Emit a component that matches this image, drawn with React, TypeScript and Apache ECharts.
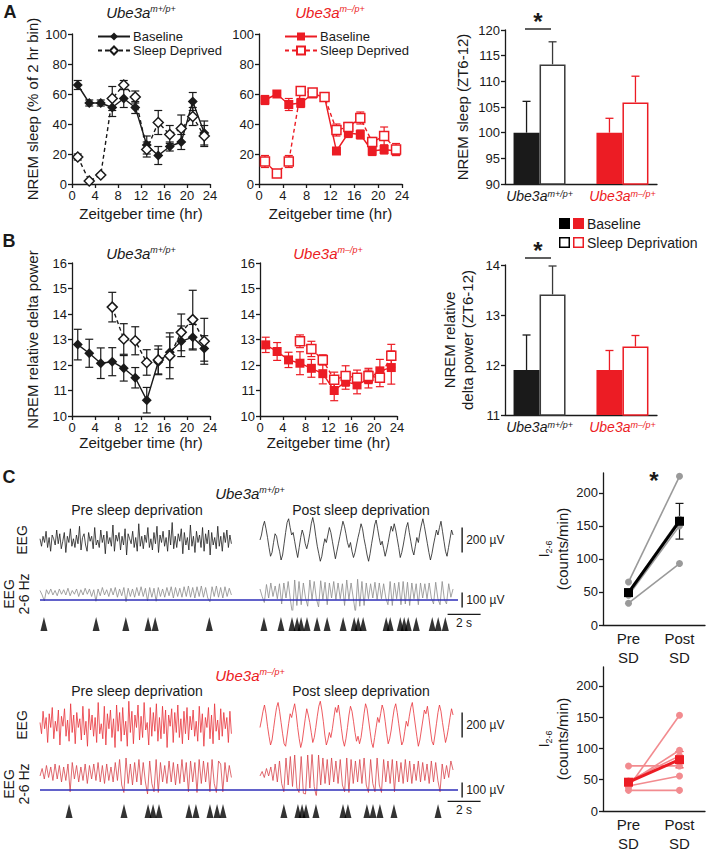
import React, { useEffect, useRef } from "react";
import * as echarts from "echarts";

const FONT = "'Liberation Sans', Arial, Helvetica, sans-serif";
const INK = "#1a1a1a";
const RED = "#ec1c24";
const PINK = "#f28b8f";
const GRAY = "#9a9a9a";
const BLUE = "#2e2eb8";

// ---------- Panel A / B time courses ----------
const hours = [1, 3, 5, 7, 9, 11, 13, 15, 17, 19, 21, 23];

const wtSleepBase = [66, 54, 54, 51, 57, 51, 26, 19, 25, 28, 55, 34];
const wtSleepBaseErr = [3, 2, 2, 6, 6, 4, 6, 6, 3, 5, 6, 8];
const wtSleepSD = [18, 2, 6, 57, 66, 58, 23, 41, 33, 37, 45, 32];
const wtSleepSDErr = [2, 1, 1, 8, 3, 4, 5, 8, 6, 9, 6, 7];
const koSleepBase = [56, 60, 53, 54, 60, 58, 22, 34, 33, 22, 23, 22];
const koSleepBaseErr = [3, 2, 4, 3, 2, 2, 2, 3, 3, 3, 3, 3];
const koSleepSD = [15, 7, 15, 62, 61, 58, 36, 38, 44, 28, 32, 23];
const koSleepSDErr = [4, 2, 4, 2, 2, 2, 4, 3, 4, 3, 6, 4];

const wtDeltaBase = [12.8, 12.46, 12.07, 12.13, 11.87, 11.5, 10.62, 12.12, 12.5, 12.93, 13.09, 12.65];
const wtDeltaBaseErr = [0.6, 0.55, 0.6, 0.55, 0.5, 0.4, 0.5, 0.5, 0.6, 0.6, 0.5, 0.5];
const wtDeltaSD = [null, null, null, 14.27, 13.02, 12.95, 12.1, 12.2, 12.36, 13.28, 13.78, 12.93];
const wtDeltaSDErr = [null, null, null, 0.58, 0.6, 0.55, 0.5, 0.55, 0.9, 0.72, 1.15, 0.9];
const koDeltaBase = [12.79, 12.53, 12.2, 12.07, 11.87, 11.66, 11.0, 11.35, 11.22, 11.45, 11.77, 11.9];
const koDeltaBaseErr = [0.3, 0.35, 0.3, 0.45, 0.35, 0.4, 0.4, 0.3, 0.35, 0.35, 0.45, 0.65];
const koDeltaSD = [null, null, null, 12.93, 12.63, 12.2, 11.42, 11.57, 11.5, 11.57, 11.5, 12.36];
const koDeltaSDErr = [null, null, null, 0.25, 0.3, 0.2, 0.3, 0.4, 0.3, 0.3, 0.35, 0.45];

// ---------- Bar panels (ZT6-12) ----------
const barKeys = ["c0", "c1", "wt", "c3", "c4", "c5", "c6", "c7", "ko", "c9", "c10"];
const sleepBarBase = { wt: 100, ko: 100 };
const sleepBarBaseErr = { wt: 6.1, ko: 2.8 };
const sleepBarSD = { wt: 113.3, ko: 105.9 };
const sleepBarSDErr = { wt: 4.4, ko: 5.1 };
const deltaBarBase = { wt: 11.9, ko: 11.9 };
const deltaBarBaseErr = { wt: 0.7, ko: 0.39 };
const deltaBarSD = { wt: 13.41, ko: 12.37 };
const deltaBarSDErr = { wt: 0.57, ko: 0.22 };

// ---------- Panel C traces (µV) ----------
const preDur = 11.6;
const postStart = 13.33;
const postDur = 11.7;
const rowSpan = 25.33;

const wtPreEEG = [10, -50, 30, -20, 70, -60, 20, -90, 40, 10, -40, 80, -30, 50, -70, -10, 60, -100, 30, -20, 90, -50, 10, -60, 40, -30, 110, -80, 20, 50, -40, -90, 60, -10, 30, -70, 100, -40, 0, -60, 80, -20, 40, -110, 70, -30, 20, -50, 120, -90, 40, -10, 60, -80, 30, -40, 90, -120, 50, 10, -30, 70, -60, 20, -90, 130, -50, 30, -70, 40, -20, 100, -60, 10, -80, 60, -30, 110, -100, 40, -20, 70, -50, 20, -90, 80, -40, 140, -70, 30, -60, 50, -10, 90, -110, 60, -40, 20, -80, 120, -50, 30, -100, 70, -20, 40, -60, 100, -90, 50, -30, 80, -120, 60, -40, 20, -70, 110, -50, 30, -90, 60, -20, 80, -60, 40, -30];
const wtPostEEG = [0, 40, 110, 150, 90, 20, -60, -130, -100, -20, 50, 30, -40, -90, -160, -120, -30, 60, 140, 170, 100, 40, 60, -10, -80, -140, -60, 20, 80, 40, -30, -70, -20, 50, 130, 180, 120, 30, -50, -110, -170, -130, -50, 10, -20, 40, 100, 60, -10, -80, -150, -90, -30, 30, 90, 150, 110, 50, -20, -60, -20, -90, -140, -100, -40, 20, 70, 130, 90, 10, -50, -120, -170, -110, -30, 40, 120, 160, 90, 20, -40, -10, -70, -130, -80, -20, 50, 110, 70, 130, 80, 10, -60, -140, -100, -40, 30, 100, 140, 60, -10, -80, -120, -50, 20, -20, 60, 120, 170, 110, 40, -30, -100, -160, -110, -40, 20, 80, 40, 100, 150, 70, -10, -90, -130, -60, 10, 80, 40];
const wtPreFilt = [10, -20, -60, 15, -15, 20, -20, 10, -25, 20, -15, 15, -20, 25, -25, 10, -15, 20, -30, 15, -20, 25, -15, 20, -30, 15, -62, 20, -25, 30, -20, 15, -30, 25, -20, 30, -35, 20, -25, 30, -65, 25, -30, 20, -35, 30, -25, 35, -30, 25, -60, 30, -35, 25, -62, 30, -30, 20, -35, 30, -25, 35, -40, 30, -30, 25, -35, 35, -30, 40, -35, 30, -40, 35, -30, 40, -35, 30, -40, -65, 35, -30, 40, -35, 30, -40, 35, -30, 25, -20];
const wtPostFilt = [20, -30, -70, 50, -40, 60, -30, 40, -45, 55, -80, 60, -40, 70, -50, -150, 80, -90, 70, -85, 60, -40, -95, 80, -50, 70, -45, -100, 75, -50, 65, -85, 60, -40, 70, -50, 60, -45, 55, -90, 80, -50, 60, -40, -140, 85, -95, 70, -90, 60, -45, 55, -40, 65, -50, 60, -45, 55, -40, -85, 70, -90, 60, -45, 65, -85, 70, -80, 65, -90, 60, -45, 55, -85, 60, -40, 55, -45, 60, -40, -80, 65, -45, -85, 70, -50, -80, 55, -35, 20];
const koPreEEG = [20, -70, 110, -30, 60, -140, 90, -20, 140, -110, 30, -50, 120, -160, 70, -10, 130, -90, 40, -130, 170, -60, 80, -150, 100, -20, 50, -120, 150, -80, 30, -170, 130, -40, 80, -90, 60, -140, 180, -70, 10, -110, 150, -160, 90, -30, 120, -100, 50, -180, 160, -50, 100, -130, 140, -80, 30, -170, 190, -60, 110, -150, 80, -20, 160, -120, 70, -100, 180, -40, 20, -160, 140, -90, 100, -50, 170, -130, 60, -110, 150, -70, 120, -180, 80, -10, 130, -140, 100, -60, 160, -100, 50, -150, 110, -70, 140, -120, 70, -40, 120, -90, 30, -130, 150, -60, 90, -170, 60, -20, 140, -110, 80, -150, 170, -50, 40, -120, 130, -90, 100, -30, 60, -140, 110, -70];
const koPostEEG = [-20, 40, 110, 160, 90, -10, -90, -160, -120, -30, 60, 140, 180, 110, 20, -70, -150, -170, -80, 10, 90, 60, 120, 170, 90, -20, -110, -180, -130, -40, 50, 130, 80, 20, -60, -140, -100, -20, 70, 150, 190, 120, 30, -80, -160, -120, -60, -100, -30, 60, 140, 100, 160, 70, -30, -120, -170, -110, -20, 80, 150, 110, 30, -60, -130, -90, -150, -100, -10, 90, 170, 130, 40, -50, -140, -180, -100, -20, 60, 20, 90, 160, 120, 30, -70, -150, -110, -40, 50, 130, 170, 100, 10, -80, -160, -130, -50, 30, -10, 70, 140, 180, 90, 0, -90, -170, -120, -40, 40, 120, 90, 150, 60, -40, -130, -160, -80, 10, 100, 160, 110, 20, -60, -140, -90, -20, 60, 130, 80];
const koPreFilt = [-20, 30, -40, 50, -30, 40, -50, 60, -40, 50, -60, 40, -50, 60, -125, 70, -40, 50, -60, 40, -50, 60, -70, 50, -40, 60, -50, 70, -60, 50, -70, 60, -50, 40, -60, 70, -50, 90, -80, -130, 100, -70, 60, -80, 70, -60, 90, -80, 70, -60, -140, 80, -70, -125, 90, -130, 70, -60, 50, -70, 80, -60, 70, -80, 60, -70, 90, -60, 70, -125, 80, -60, 70, -130, 90, -70, 80, -60, 70, -125, 90, -70, -130, 80, 60, -125, 70, -60, 50, -30];
const koPostFilt = [-20, 10, -30, 30, -20, 40, -50, 60, -60, 80, -70, -125, 100, -80, 110, -90, 120, -100, -130, 110, -135, -140, 120, -100, 130, -90, -160, 120, -80, 100, -70, 90, -80, 100, -60, 80, -70, 90, -80, -125, 100, -130, 90, -70, 80, -60, 90, -70, 100, -80, -130, 90, -70, -125, 100, -80, -130, 90, -60, 80, -70, 90, -125, 80, -60, 70, -70, 90, -60, 80, -70, 60, -50, 80, -60, 70, -50, 60, -70, 80, -60, 70, -50, -125, 60, -40, 50, -30, 80, 20];

const wtThreshold = -53;
const koThreshold = -113;

const wtPreArrows = [0.24, 3.4, 5.2, 6.55, 6.98, 10.26];
const wtPostArrows = [0.24, 1.27, 1.94, 2.25, 2.49, 2.85, 3.46, 4.07, 5.04, 5.71, 5.95, 6.25, 7.65, 7.89, 8.5, 8.74, 8.98, 9.47, 10.44, 10.8, 11.23];
const koPreArrows = [1.76, 5.09, 6.55, 6.85, 7.21, 9.03, 9.45, 10.3, 10.73, 11.09];
const koPostArrows = [1.45, 2.3, 2.55, 2.79, 3.39, 5.03, 5.33, 6.48, 6.85, 7.27, 8.12, 10.79];

const eegScaleUV = 200;
const filtScaleUV = 100;
const timeScaleS = 2;

// ---------- Panel C right: I2-6 counts/min ----------
const prePost = ["Pre\nSD", "Post\nSD"];
const wtPreCounts = [65, 33, 45, 50];
const wtPostCounts = [225, 93, 150, 160];
const wtMean = [49, 157];
const wtSem = [5, 27];
const koPreCounts = [72, 33, 38, 45, 48, 40];
const koPostCounts = [72, 33, 153, 97, 88, 56];
const koMean = [46, 82];
const koSem = [4, 13];

// ---------- helpers ----------
const axisText = { fontFamily: FONT, fontSize: 13, color: INK };
const nameText = { fontFamily: FONT, fontSize: 15, color: INK };

function valueAxis(o: any) {
  return {
    type: "value",
    axisLine: { show: true, onZero: false, lineStyle: { color: INK, width: 1.3 } },
    axisTick: { show: true, length: 4, lineStyle: { color: INK, width: 1.3 } },
    splitLine: { show: false },
    axisLabel: { ...axisText, margin: 5 },
    nameTextStyle: nameText,
    nameLocation: "middle",
    ...o,
  };
}
function hiddenAxis(gridIndex: number, min: number, max: number) {
  return { type: "value", gridIndex, show: false, min, max, splitLine: { show: false } };
}

function errSeries(gi: number, xs: number[], vals: any[], errs: any[], color: string, cap = 4) {
  const data = xs
    .map((x, i) => (vals[i] == null ? null : [x, vals[i] - errs[i], vals[i] + errs[i]]))
    .filter((d) => d !== null);
  return {
    type: "custom",
    xAxisIndex: gi,
    yAxisIndex: gi,
    silent: true,
    z: 2,
    data,
    encode: { x: 0, y: [1, 2] },
    renderItem: (_p: any, api: any) => {
      const x = api.value(0);
      const lo = api.coord([x, api.value(1)]);
      const hi = api.coord([x, api.value(2)]);
      const st = { stroke: color, lineWidth: 1.2, fill: null };
      return {
        type: "group",
        children: [
          { type: "line", shape: { x1: lo[0], y1: lo[1], x2: hi[0], y2: hi[1] }, style: st },
          { type: "line", shape: { x1: lo[0] - cap, y1: lo[1], x2: lo[0] + cap, y2: lo[1] }, style: st },
          { type: "line", shape: { x1: hi[0] - cap, y1: hi[1], x2: hi[0] + cap, y2: hi[1] }, style: st },
        ],
      };
    },
  };
}

function ptSeries(name: string, gi: number, vals: any[], o: any) {
  const data = hours.map((h, i) => (vals[i] == null ? null : [h, vals[i]])).filter((d) => d !== null);
  return {
    name,
    type: "line",
    xAxisIndex: gi,
    yAxisIndex: gi,
    data,
    symbol: o.symbol,
    symbolSize: o.size,
    showSymbol: true,
    silent: true,
    z: 3,
    itemStyle: o.open
      ? { color: "#ffffff", borderColor: o.color, borderWidth: 1.5 }
      : { color: o.color, borderWidth: 0 },
    lineStyle: { color: o.color, width: 1.4, type: o.open ? [4, 3] : "solid" },
  };
}

function barSeries(gi: number, vals: any, colors: any, open: boolean) {
  return {
    type: "bar",
    xAxisIndex: gi,
    yAxisIndex: gi,
    barWidth: 26,
    barGap: "0%",
    silent: true,
    z: 2,
    data: barKeys.map((k) =>
      vals[k] == null
        ? null
        : {
            value: vals[k],
            itemStyle: open
              ? { color: "#ffffff", borderColor: colors[k], borderWidth: 1.5 }
              : { color: colors[k] },
          }
    ),
  };
}

function barErrSeries(gi: number, vals: any, errs: any, colors: any, offset: number) {
  const data = barKeys
    .map((k, i) => (vals[k] == null ? null : [i, vals[k], vals[k] + errs[k], k]))
    .filter((d) => d !== null);
  return {
    type: "custom",
    xAxisIndex: gi,
    yAxisIndex: gi,
    silent: true,
    z: 1,
    data,
    encode: { x: 0, y: [1, 2] },
    renderItem: (p: any, api: any) => {
      const lo = api.coord([api.value(0), api.value(1)]);
      const hi = api.coord([api.value(0), api.value(2)]);
      const k = (data[p.dataIndex] as any)[3];
      const x = lo[0] + offset;
      const st = { stroke: colors[k], lineWidth: 1.3, fill: null };
      return {
        type: "group",
        children: [
          { type: "line", shape: { x1: x, y1: lo[1], x2: x, y2: hi[1] }, style: st },
          { type: "line", shape: { x1: x - 4, y1: hi[1], x2: x + 4, y2: hi[1] }, style: st },
        ],
      };
    },
  };
}

const traceData = (vals: number[], t0: number, dur: number) =>
  vals.map((v, i) => [t0 + (i * dur) / (vals.length - 1), v]);

function traceSeries(gi: number, vals: number[], t0: number, dur: number, color: string, width = 0.8, extra: any = {}) {
  return {
    type: "line",
    xAxisIndex: gi,
    yAxisIndex: gi,
    data: traceData(vals, t0, dur),
    showSymbol: false,
    symbol: "none",
    silent: true,
    lineStyle: { color, width },
    z: 2,
    ...extra,
  };
}

function arrowSeries(gi: number, pre: number[], post: number[]) {
  return {
    type: "scatter",
    xAxisIndex: gi,
    yAxisIndex: gi,
    symbol: "triangle",
    symbolSize: [7, 14],
    silent: true,
    itemStyle: { color: "#000" },
    data: [...pre.map((t) => [t, 0.5]), ...post.map((t) => [postStart + t, 0.5])],
  };
}

function geneLabel(ko: boolean, size: number, colorKey: string) {
  const c = ko ? RED : INK;
  return {
    a: { fontFamily: FONT, fontSize: size, fontStyle: "italic", [colorKey]: c },
    s: { fontFamily: FONT, fontSize: Math.round(size * 0.62), fontStyle: "italic", [colorKey]: c, verticalAlign: "top" },
  };
}
const geneText = (ko: boolean) => (ko ? "{a|Ube3a}{s|m\u2013/p+}" : "{a|Ube3a}{s|m+/p+}");

function gText(text: string, x: number, y: number, size: number, extra: any = {}, el: any = {}) {
  return {
    type: "text",
    x,
    y,
    silent: true,
    ...el,
    style: { text, fontFamily: FONT, fontSize: size, fill: INK, align: "center", verticalAlign: "middle", ...extra },
  };
}
function gTitle(x: number, y: number, ko: boolean, size = 15) {
  return {
    type: "text",
    x,
    y,
    silent: true,
    style: { text: geneText(ko), align: "center", verticalAlign: "middle", rich: geneLabel(ko, size, "fill") },
  };
}
function gLine(x1: number, y1: number, x2: number, y2: number, color = INK, w = 1.4) {
  return { type: "line", silent: true, shape: { x1, y1, x2, y2 }, style: { stroke: color, lineWidth: w } };
}

function buildOption() {
  const grids = [
    { left: 72, top: 34, width: 138, height: 150 },
    { left: 259, top: 34, width: 143, height: 150 },
    { left: 505, top: 30, width: 152, height: 154 },
    { left: 72, top: 263, width: 138, height: 153 },
    { left: 260, top: 263, width: 137, height: 153 },
    { left: 505, top: 265, width: 152, height: 150 },
    { left: 40, top: 515, width: 418, height: 50 },
    { left: 40, top: 575, width: 418, height: 35 },
    { left: 40, top: 616, width: 418, height: 16 },
    { left: 40, top: 700, width: 418, height: 50 },
    { left: 40, top: 755, width: 418, height: 40 },
    { left: 40, top: 803, width: 418, height: 16 },
    { left: 603, top: 473, width: 102, height: 152 },
    { left: 603, top: 667, width: 102, height: 152 },
  ];

  const barCat = (gi: number) => ({
    type: "category",
    gridIndex: gi,
    data: barKeys,
    axisLine: { show: true, lineStyle: { color: INK, width: 1.3 } },
    axisTick: { show: false },
    splitLine: { show: false },
    axisLabel: {
      interval: 0,
      margin: 5,
      formatter: (v: string) => (v === "wt" ? "{a|Ube3a}{s|m+/p+}" : v === "ko" ? "{r|Ube3a}{rs|m\u2013/p+}" : ""),
      rich: {
        a: { fontFamily: FONT, fontSize: 14, fontStyle: "italic", color: INK },
        s: { fontFamily: FONT, fontSize: 9, fontStyle: "italic", color: INK, verticalAlign: "top" },
        r: { fontFamily: FONT, fontSize: 14, fontStyle: "italic", color: RED },
        rs: { fontFamily: FONT, fontSize: 9, fontStyle: "italic", color: RED, verticalAlign: "top" },
      },
    },
  });

  const ppCat = (gi: number) => ({
    type: "category",
    gridIndex: gi,
    data: prePost,
    axisLine: { show: true, lineStyle: { color: INK, width: 1.3 } },
    axisTick: { show: false },
    splitLine: { show: false },
    axisLabel: { fontFamily: FONT, fontSize: 15, color: INK, lineHeight: 19, margin: 4, interval: 0 },
  });

  const countAxis = (gi: number) =>
    valueAxis({
      gridIndex: gi,
      min: 0,
      max: 230,
      interval: 50,
      axisTick: { show: true, length: 4, lineStyle: { color: INK, width: 1.3 }, customValues: [0, 50, 100, 150, 200] },
      axisLabel: { ...axisText, margin: 5, customValues: [0, 50, 100, 150, 200] },
      name: "{i|I}{sub|2-6}\n(counts/min)",
      nameGap: 29,
      nameTextStyle: {
        fontFamily: FONT,
        fontSize: 15,
        color: INK,
        lineHeight: 19,
        rich: {
          i: { fontFamily: FONT, fontSize: 15, color: INK },
          sub: { fontFamily: FONT, fontSize: 9, color: INK, verticalAlign: "bottom" },
        },
      },
    });

  const xAxis = [
    valueAxis({ gridIndex: 0, min: 0, max: 24, interval: 4, name: "Zeitgeber time (hr)", nameGap: 22 }),
    valueAxis({ gridIndex: 1, min: 0, max: 24, interval: 4, name: "Zeitgeber time (hr)", nameGap: 22 }),
    barCat(2),
    valueAxis({ gridIndex: 3, min: 0, max: 24, interval: 4, name: "Zeitgeber time (hr)", nameGap: 19 }),
    valueAxis({ gridIndex: 4, min: 0, max: 24, interval: 4, name: "Zeitgeber time (hr)", nameGap: 19 }),
    barCat(5),
    hiddenAxis(6, 0, rowSpan),
    hiddenAxis(7, 0, rowSpan),
    hiddenAxis(8, 0, rowSpan),
    hiddenAxis(9, 0, rowSpan),
    hiddenAxis(10, 0, rowSpan),
    hiddenAxis(11, 0, rowSpan),
    ppCat(12),
    ppCat(13),
  ];

  const yAxis = [
    valueAxis({ gridIndex: 0, min: 0, max: 100, interval: 20, name: "NREM sleep (% of 2 hr bin)", nameGap: 32 }),
    valueAxis({ gridIndex: 1, min: 0, max: 100, interval: 20 }),
    valueAxis({ gridIndex: 2, min: 90, max: 120, interval: 5, name: "NREM sleep (ZT6-12)", nameGap: 35 }),
    valueAxis({ gridIndex: 3, min: 10, max: 16, interval: 1, name: "NREM relative delta power", nameGap: 32 }),
    valueAxis({ gridIndex: 4, min: 10, max: 16, interval: 1 }),
    valueAxis({
      gridIndex: 5,
      min: 11,
      max: 14,
      interval: 1,
      name: "NREM relative\ndelta power (ZT6-12)",
      nameGap: 29,
      nameTextStyle: { ...nameText, lineHeight: 18 },
    }),
    hiddenAxis(6, -200, 200),
    hiddenAxis(7, -120, 113.33),
    hiddenAxis(8, 0, 1),
    hiddenAxis(9, -200, 200),
    hiddenAxis(10, -146.67, 120),
    hiddenAxis(11, 0, 1),
    countAxis(12),
    countAxis(13),
  ];

  const barColors = { wt: INK, ko: RED };
  const barOpenColors = { wt: "#3a3a3a", ko: RED };

  const series: any[] = [
    errSeries(0, hours, wtSleepBase, wtSleepBaseErr, INK),
    errSeries(0, hours, wtSleepSD, wtSleepSDErr, INK),
    ptSeries("Baseline", 0, wtSleepBase, { symbol: "diamond", size: 10, color: INK }),
    ptSeries("Sleep Deprived", 0, wtSleepSD, { symbol: "diamond", size: 10, color: INK, open: true }),
    errSeries(1, hours, koSleepBase, koSleepBaseErr, RED),
    errSeries(1, hours, koSleepSD, koSleepSDErr, RED),
    ptSeries("Baseline ", 1, koSleepBase, { symbol: "rect", size: 9, color: RED }),
    ptSeries("Sleep Deprived ", 1, koSleepSD, { symbol: "rect", size: 9, color: RED, open: true }),
    barSeries(2, sleepBarBase, barColors, false),
    barSeries(2, sleepBarSD, barOpenColors, true),
    barErrSeries(2, sleepBarBase, sleepBarBaseErr, barColors, -13),
    barErrSeries(2, sleepBarSD, sleepBarSDErr, barOpenColors, 13),
    errSeries(3, hours, wtDeltaBase, wtDeltaBaseErr, INK),
    errSeries(3, hours, wtDeltaSD, wtDeltaSDErr, INK),
    ptSeries("wt delta base", 3, wtDeltaBase, { symbol: "diamond", size: 10, color: INK }),
    ptSeries("wt delta sd", 3, wtDeltaSD, { symbol: "diamond", size: 10, color: INK, open: true }),
    errSeries(4, hours, koDeltaBase, koDeltaBaseErr, RED),
    errSeries(4, hours, koDeltaSD, koDeltaSDErr, RED),
    ptSeries("ko delta base", 4, koDeltaBase, { symbol: "rect", size: 9, color: RED }),
    ptSeries("ko delta sd", 4, koDeltaSD, { symbol: "rect", size: 9, color: RED, open: true }),
    barSeries(5, deltaBarBase, barColors, false),
    barSeries(5, deltaBarSD, barOpenColors, true),
    barErrSeries(5, deltaBarBase, deltaBarBaseErr, barColors, -13),
    barErrSeries(5, deltaBarSD, deltaBarSDErr, barOpenColors, 13),
    traceSeries(6, wtPreEEG, 0, preDur, "#1e1e1e"),
    traceSeries(6, wtPostEEG, postStart, postDur, "#1e1e1e"),
    traceSeries(7, wtPreFilt, 0, preDur, "#8c8c8c", 0.8, {
      markLine: {
        silent: true,
        symbol: "none",
        label: { show: false },
        lineStyle: { color: BLUE, width: 1.6, type: "solid" },
        data: [{ yAxis: wtThreshold }],
        z: 5,
      },
    }),
    traceSeries(7, wtPostFilt, postStart, postDur, "#8c8c8c"),
    arrowSeries(8, wtPreArrows, wtPostArrows),
    traceSeries(9, koPreEEG, 0, preDur, "#e8323a"),
    traceSeries(9, koPostEEG, postStart, postDur, "#e8323a"),
    traceSeries(10, koPreFilt, 0, preDur, "#d8444b", 0.8, {
      markLine: {
        silent: true,
        symbol: "none",
        label: { show: false },
        lineStyle: { color: BLUE, width: 1.6, type: "solid" },
        data: [{ yAxis: koThreshold }],
        z: 5,
      },
    }),
    traceSeries(10, koPostFilt, postStart, postDur, "#d8444b"),
    arrowSeries(11, koPreArrows, koPostArrows),
  ];

  wtPreCounts.forEach((v, i) => {
    series.push({
      type: "line",
      xAxisIndex: 12,
      yAxisIndex: 12,
      data: [v, wtPostCounts[i]],
      symbol: "circle",
      symbolSize: 7,
      silent: true,
      z: 2,
      itemStyle: { color: GRAY },
      lineStyle: { color: GRAY, width: 1.6 },
    });
  });
  series.push(errSeries(12, [0, 1], wtMean, wtSem, INK, 4));
  series.push({
    type: "line",
    xAxisIndex: 12,
    yAxisIndex: 12,
    data: wtMean,
    symbol: "rect",
    symbolSize: 9,
    silent: true,
    z: 4,
    itemStyle: { color: "#000" },
    lineStyle: { color: "#000", width: 3 },
  });
  koPreCounts.forEach((v, i) => {
    series.push({
      type: "line",
      xAxisIndex: 13,
      yAxisIndex: 13,
      data: [v, koPostCounts[i]],
      symbol: "circle",
      symbolSize: 7,
      silent: true,
      z: 2,
      itemStyle: { color: PINK },
      lineStyle: { color: PINK, width: 1.6 },
    });
  });
  series.push(errSeries(13, [0, 1], koMean, koSem, RED, 4));
  series.push({
    type: "line",
    xAxisIndex: 13,
    yAxisIndex: 13,
    data: koMean,
    symbol: "rect",
    symbolSize: 9,
    silent: true,
    z: 4,
    itemStyle: { color: RED },
    lineStyle: { color: RED, width: 3 },
  });

  const legendCommon = {
    orient: "vertical",
    itemWidth: 32,
    itemHeight: 10,
    itemGap: 1,
    selectedMode: false,
    textStyle: { fontFamily: FONT, fontSize: 13, color: INK, padding: [0, 0, 0, -2] },
    formatter: (n: string) => n.trim(),
  };

  return {
    animation: false,
    backgroundColor: "#ffffff",
    textStyle: { fontFamily: FONT },
    grid: grids,
    xAxis,
    yAxis,
    legend: [
      { ...legendCommon, left: 92, top: 25, data: ["Baseline", "Sleep Deprived"] },
      { ...legendCommon, left: 279, top: 25, data: ["Baseline ", "Sleep Deprived "] },
    ],
    series,
  };
}

function staticGraphics() {
  const g: any[] = [
    gText("A", 10, 12, 18, { fontWeight: "bold" }),
    gText("B", 9, 241, 18, { fontWeight: "bold" }),
    gText("C", 9, 477, 18, { fontWeight: "bold" }),
    gTitle(141, 12, false),
    gTitle(330, 12, true),
    gTitle(141, 253, false),
    gTitle(328, 253, true),
    gLine(525, 29, 551, 29),
    gText("*", 538, 21, 24, { fontWeight: "bold" }),
    gLine(525, 258, 551, 258),
    gText("*", 538, 250, 24, { fontWeight: "bold" }),
    { type: "rect", silent: true, shape: { x: 559, y: 218, width: 11, height: 11 }, style: { fill: "#000" } },
    { type: "rect", silent: true, shape: { x: 573, y: 218, width: 11, height: 11 }, style: { fill: RED } },
    { type: "rect", silent: true, shape: { x: 559.75, y: 237.75, width: 9.5, height: 9.5 }, style: { fill: "#fff", stroke: "#000", lineWidth: 1.5 } },
    { type: "rect", silent: true, shape: { x: 573.75, y: 237.75, width: 9.5, height: 9.5 }, style: { fill: "#fff", stroke: RED, lineWidth: 1.5 } },
    gText("Baseline", 587, 224, 14, { align: "left" }),
    gText("Sleep Deprivation", 587, 243, 14, { align: "left" }),
    gTitle(250, 493, false),
    gText("Pre sleep deprivation", 137, 510, 14),
    gText("Post sleep deprivation", 361, 510, 14),
    gText("EEG", 22, 540, 14, {}, { rotation: Math.PI / 2 }),
    gText("EEG\n2-6 Hz", 16, 594, 14, { lineHeight: 15 }, { rotation: Math.PI / 2 }),
    gTitle(250, 675, true),
    gText("Pre sleep deprivation", 137, 691, 14),
    gText("Post sleep deprivation", 361, 691, 14),
    gText("EEG", 22, 725, 14, {}, { rotation: Math.PI / 2 }),
    gText("EEG\n2-6 Hz", 16, 784, 14, { lineHeight: 15 }, { rotation: Math.PI / 2 }),
    gText("*", 654, 480, 24, { fontWeight: "bold" }),
  ];
  return g;
}

function scaleBars(chart: any) {
  const px = (gi: number, v: number[]) => chart.convertToPixel({ gridIndex: gi }, v) as number[];
  const out: any[] = [];
  const vbar = (gi: number, t: number, y1: number, y2: number, label: string) => {
    const a = px(gi, [t, y1]);
    const b = px(gi, [t, y2]);
    out.push(gLine(a[0], a[1], b[0], b[1], INK, 1.4));
    out.push(gText(label, a[0] + 4, (a[1] + b[1]) / 2, 12, { align: "left" }));
  };
  const hbar = (gi: number, t1: number, t2: number, y: number, label: string) => {
    const a = px(gi, [t1, y]);
    const b = px(gi, [t2, y]);
    out.push(gLine(a[0], a[1], b[0], b[1], INK, 1.4));
    out.push(gText(label, (a[0] + b[0]) / 2, a[1] + 9, 12));
  };
  const tBar = rowSpan + 0.25;
  vbar(6, tBar, -eegScaleUV / 2, eegScaleUV / 2, "200 \u00b5V");
  vbar(7, tBar, wtThreshold - filtScaleUV / 2, wtThreshold + filtScaleUV / 2, "100 \u00b5V");
  hbar(8, 24.7, 24.7 + timeScaleS, 1.1, "2 s");
  vbar(9, tBar, -eegScaleUV / 2, eegScaleUV / 2, "200 \u00b5V");
  vbar(10, tBar, koThreshold - filtScaleUV / 2, koThreshold + filtScaleUV / 2, "100 \u00b5V");
  hbar(11, 24.7, 24.7 + timeScaleS, 1.1, "2 s");
  return out;
}

export default function App() {
  const ref = useRef<HTMLDivElement>(null);
  useEffect(() => {
    if (!ref.current) return;
    const chart = echarts.init(ref.current, undefined, { renderer: "svg" });
    chart.setOption(buildOption() as any);
    chart.setOption({ graphic: [...staticGraphics(), ...scaleBars(chart)] } as any);
    return () => chart.dispose();
  }, []);
  return (
    <div
      ref={ref}
      style={{ position: "fixed", left: 0, top: 0, width: 706, height: 853, background: "#ffffff" }}
    />
  );
}
